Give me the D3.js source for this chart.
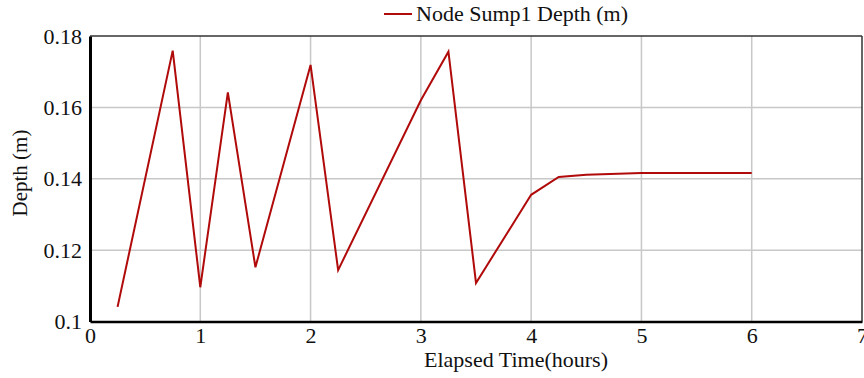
<!DOCTYPE html>
<html>
<head>
<meta charset="utf-8">
<script src="https://cdn.jsdelivr.net/npm/d3@7"></script>
<style>
  html, body { margin: 0; padding: 0; background: #fff; }
  svg { display: block; }
  svg text { font-family: "Liberation Serif", "DejaVu Serif", serif !important; fill: #111; }
</style>
</head>
<body>
<svg id="chart" width="864" height="378"></svg>
<script>
// Data
const times  = [0.25, 0.75, 1.0, 1.25, 1.5, 2.0, 2.25, 3.0, 3.25, 3.5, 4.0, 4.25, 4.5, 5.0, 6.0];
const depths = [0.1041, 0.1759, 0.1096, 0.1642, 0.1152, 0.1719, 0.1144, 0.1620, 0.1756, 0.1108, 0.1355, 0.1405, 0.1411, 0.1416, 0.1416];
const xTicks = [0, 1, 2, 3, 4, 5, 6, 7];
const yTicks = [0.10, 0.12, 0.14, 0.16, 0.18];
const seriesName = "Node Sump1 Depth (m)";
const xTitle = "Elapsed Time(hours)";
const yTitle = "Depth (m)";

const FONT = "'Liberation Serif', 'DejaVu Serif', serif";
const svg = d3.select("#chart");
const mLeft = 90, mRight = 862, mTop = 36, mBottom = 321.5;

const x = d3.scaleLinear().domain([0, 7]).range([mLeft, mRight]);
const y = d3.scaleLinear().domain([0.10, 0.18]).range([mBottom, mTop]);

// grid
const grid = svg.append("g");
grid.selectAll(".gx").data(xTicks.slice(1, -1)).join("line")
  .attr("x1", d => x(d)).attr("x2", d => x(d))
  .attr("y1", mTop).attr("y2", mBottom)
  .attr("stroke", "#c8c8c8").attr("stroke-width", 1.5);
grid.selectAll(".gy").data(yTicks.slice(1, -1)).join("line")
  .attr("x1", mLeft).attr("x2", mRight)
  .attr("y1", d => y(d)).attr("y2", d => y(d))
  .attr("stroke", "#c8c8c8").attr("stroke-width", 1.5);

// frame top/right
svg.append("line").attr("x1", mLeft).attr("x2", mRight).attr("y1", mTop).attr("y2", mTop)
  .attr("stroke", "#333").attr("stroke-width", 1.5);
svg.append("line").attr("x1", mRight).attr("x2", mRight).attr("y1", mTop).attr("y2", mBottom)
  .attr("stroke", "#333").attr("stroke-width", 1.5);

// axes
const xAxis = d3.axisBottom(x).tickValues(xTicks).tickSize(0).tickPadding(6)
  .tickFormat(d3.format("d"));
const gx = svg.append("g").attr("transform", `translate(0,${mBottom})`).call(xAxis)
  .attr("font-family", FONT).attr("font-size", 22);
gx.select(".domain").attr("stroke", "#000").attr("stroke-width", 2.5);
gx.selectAll("text").style("font-family", FONT).style("font-size", "22px").attr("fill", "#111");

const yAxis = d3.axisLeft(y).tickValues(yTicks).tickSize(0).tickPadding(8)
  .tickFormat(d => String(+d.toFixed(2)));
const gy = svg.append("g").attr("transform", `translate(${mLeft},0)`).call(yAxis)
  .attr("font-family", FONT).attr("font-size", 22);
gy.select(".domain").attr("stroke", "#000").attr("stroke-width", 3);
gy.selectAll("text").style("font-family", FONT).style("font-size", "22px").attr("fill", "#111");

// series line
const data = times.map((t, i) => ({ t, v: depths[i] }));
const line = d3.line().x(d => x(d.t)).y(d => y(d.v));
svg.append("path").datum(data).attr("d", line)
  .attr("fill", "none").attr("stroke", "#b00a0a").attr("stroke-width", 2)
  .attr("stroke-linejoin", "miter");

// legend
svg.append("line").attr("x1", 384).attr("x2", 412).attr("y1", 14).attr("y2", 14)
  .attr("stroke", "#b00a0a").attr("stroke-width", 2);
svg.append("text").attr("x", 416).attr("y", 21)
  .style("font-family", FONT).style("font-size", "22px").text(seriesName);

// axis titles
svg.append("text").attr("x", 516).attr("y", 367).attr("text-anchor", "middle")
  .style("font-family", FONT).style("font-size", "22px").text(xTitle);
svg.append("text").attr("transform", "translate(27,173) rotate(-90)")
  .attr("text-anchor", "middle")
  .style("font-family", FONT).style("font-size", "21px").text(yTitle);
</script>
</body>
</html>
